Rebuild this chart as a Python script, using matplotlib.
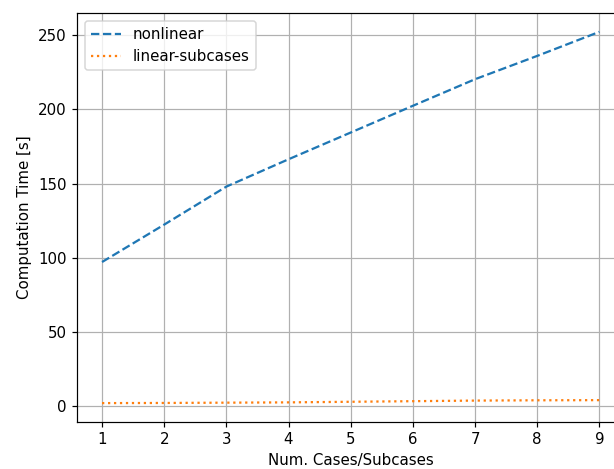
import matplotlib
matplotlib.use("Agg")
import matplotlib.pyplot as plt

num_cases = [1, 2, 3, 4, 5, 6, 7, 8, 9]
nonlinear_time = [97.2, 122.4, 148.0, 166.4, 184.4, 202.4, 220.3, 236.0, 252.2]
linear_subcases_time = [2.2, 2.3, 2.5, 2.7, 3.1, 3.5, 3.9, 4.1, 4.2]

DPI = 108
fig = plt.figure(figsize=(614 / DPI, 469 / DPI), dpi=DPI)
ax = fig.add_axes([0.1257, 0.1009, 0.891, 0.8708])

ax.plot(num_cases, nonlinear_time, linestyle="--", label="nonlinear")
ax.plot(num_cases, linear_subcases_time, linestyle=":", label="linear-subcases")

ax.set_xlabel("Num. Cases/Subcases")
ax.set_ylabel("Computation Time [s]")
ax.grid(True)
ax.legend(loc="upper left")

fig.savefig("out.png", dpi=DPI)
